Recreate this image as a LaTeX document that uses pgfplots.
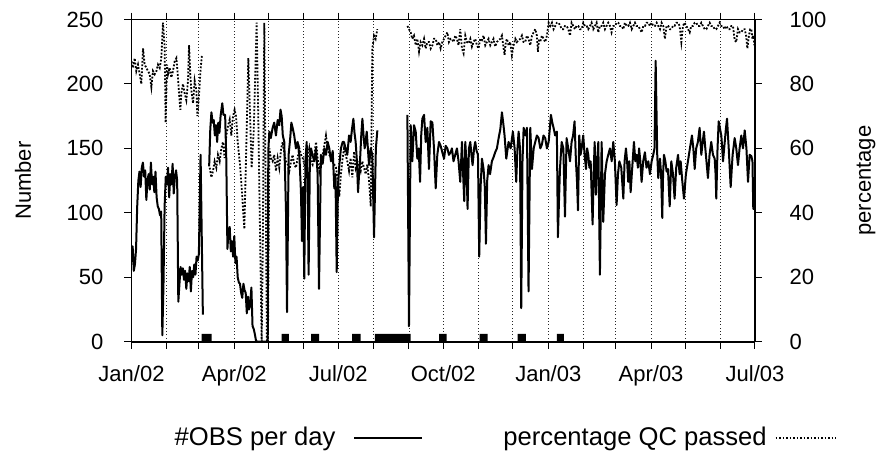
\documentclass[border=0pt]{standalone}
\usepackage{fontspec}
\setmainfont{Liberation Sans}
\usepackage{pgfplots}
\pgfplotsset{compat=1.18}
\pgfplotsset{
  solidleg/.style={legend image code/.code={\path (0pt,0pt); \draw[##1] (9pt,0pt) -- (43pt,0pt);}},
  dotleg/.style={legend image code/.code={\path (0pt,0pt); \draw[##1] (4pt,0pt) -- (34pt,0pt);}},
}
\begin{document}
\begin{tikzpicture}
\path[use as bounding box] (-65.75pt,-54.65pt) rectangle (374.25pt,170.85pt);
\pgfplotsset{
  every axis/.append style={
    width=311.75pt, height=161.1pt, scale only axis,
    at={(0,0)}, anchor=south west,
    xmin=0, xmax=546,
    axis line style={line width=0.9pt},
    every tick/.style={line width=0.5pt, black},
    major tick length=3.5pt,
    tick align=outside,
    /pgf/number format/assume math mode=true,
    tick label style={font=\fontsize{11}{13}\selectfont},
    label style={font=\fontsize{11}{13}\selectfont},
    unbounded coords=jump,
  }
}
\begin{axis}[
  ymin=0, ymax=250, ytick={0,50,100,150,200,250},
  axis y line*=left,
  xtick={0,31,59,90,120,151,181,212,243,273,304,334,365,396,424,455,485,516,546},
  xticklabels={Jan/02,,,Apr/02,,,Jul/02,,,Oct/02,,,Jan/03,,,Apr/03,,,Jul/03},
  xticklabel style={yshift=-5pt},
  yticklabel style={xshift=-7pt},
  xmajorgrids,
  major grid style={line width=0.45pt, black!85, dash pattern=on 0.45pt off 1.2pt},
  ylabel={Number},
  ylabel style={at={(axis description cs:-0.174,0.5)}, anchor=center, rotate=0},
]
% data-gap markers
\addplot[fill=black, draw=none, forget plot] coordinates {
(61.5,0)(61.5,6)(70.2,6)(70.2,0)
(131.5,0)(131.5,6)(137.9,6)(137.9,0)
(157.2,0)(157.2,6)(164.2,6)(164.2,0)
(193.3,0)(193.3,6)(200.7,6)(200.7,0)
(213.2,0)(213.2,6)(244.5,6)(244.5,0)
(269.3,0)(269.3,6)(276,6)(276,0)
(304.9,0)(304.9,6)(311.9,6)(311.9,0)
(338.2,0)(338.2,6)(345.4,6)(345.4,0)
(372.6,0)(372.6,6)(378.7,6)(378.7,0)
} \closedcycle;
% #OBS per day
\addplot[black, line width=1pt, line join=round] coordinates {
(0,62) (1,74) (2,55) (3,60) (4,72) (5,105) (6,125) (7,132) (8,120) (9,135) (10,139) (11,128) (12,133) (13,110) (14,125) (15,130) (16,118) (17,139) (18,122) (19,128) (20,116) (21,132) (22,112) (23,105) (24,103) (25,98) (26,101) (27,5) (28,44) (29,105) (30,128) (31,122) (32,135) (33,112) (34,130) (35,122) (36,138) (37,115) (38,128) (39,133) (40,125) (41,31) (42,45) (43,58) (44,52) (45,57) (46,48) (47,55) (48,41) (49,53) (50,47) (51,58) (52,39) (53,55) (54,50) (55,60) (56,52) (57,66) (58,63) (59,68) (60.5,145) (62.5,21) (65,nan)
(68,136) (69,165) (70,178) (71,170) (72,172) (73,160) (74,168) (75,155) (76,170) (77,162) (78,175) (79.5,185) (80.5,176) (82,176) (83,142) (84,72) (85,86) (86,89) (87,70) (88,78) (89,66) (90,82) (91,61) (92,66) (93,50) (94,46) (95,45) (96,38) (97,34) (98,45) (99,40) (100,38) (101,22) (102,35) (103,25) (104,30) (105,42) (106,12) (107,10) (108,6) (109,1) (110,0) (112,0) (114,0) (116,0) (118,0) (119.3,0) (119.8,148) (120.7,163) (122,158) (123.6,166) (125,170) (126.5,160) (128,172) (129.4,168) (130.5,180) (131.5,175) (132.5,160) (133.8,155) (135.3,101) (136.2,23) (137.6,145) (139,158) (140,170) (141.1,166) (142.5,160) (144,150) (145.5,155) (147,145) (148.4,116) (149.3,78) (150.3,120) (151.3,49) (152.3,140) (153.4,155) (154.3,120) (155.1,52) (156.2,140) (157.2,150) (158.5,145) (160.1,140) (161.6,150) (163,130) (164.2,41) (165.9,145) (167.4,138) (168.9,150) (170.3,145) (171.8,155) (173.2,150) (174.7,140) (176.2,148) (177.6,119) (178.6,130) (179.7,54) (180.8,120) (182,137) (183.4,150) (184.9,155) (186.1,155) (187.5,150) (189,145) (190.5,160) (191.9,155) (193.1,165) (194.3,173) (195.3,162) (196.3,155) (197.4,140) (198.4,116) (199.3,130) (200.1,140) (201.2,160) (202.2,173) (203.2,160) (204.2,150) (205,155) (206,163) (207,150) (208,137) (209.5,150) (210.9,145) (212.4,81) (214,150) (215.3,164) (216,nan)
(241.6,176) (243,12) (244.5,168) (245.9,140) (247.4,168) (248.9,163) (250.3,142) (251.5,150) (252.7,124) (253.7,160) (254.7,173) (256.2,176) (257.6,155) (259.1,166) (260.5,134) (262,171) (263.5,170) (264.9,150) (266.4,119) (267.8,145) (269.3,155) (270.7,152) (272.2,147) (273.7,142) (275.1,152) (276.6,150) (278,145) (279.5,147) (280.6,150) (282,140) (283.5,145) (285,150) (286.4,140) (287.9,124) (289.4,155) (290.4,130) (291.4,109) (292.3,155) (293.3,140) (294.3,103) (295.5,150) (296.7,155) (297.7,145) (298.7,137) (300,150) (301,155) (302.2,148) (303.4,145) (304.5,66) (305.7,120) (306.9,142) (308.3,134) (309.4,120) (310.4,76) (311.5,125) (312.7,137) (314,130) (315.6,140) (317,143) (318.5,147) (320,150) (321.5,158) (323,165) (324.4,178) (325.5,170) (326.7,160) (328.2,142) (330.2,155) (332,150) (334,163) (335.5,150) (336.9,124) (338,150) (339,163) (340.2,150) (341.3,26) (342.4,140) (343.4,166) (345,160) (346.3,166) (347.7,39) (349.2,166) (350.7,134) (352.2,150) (353.6,155) (355,160) (356.5,158) (358,150) (359.4,153) (360.8,160) (362.3,158) (363.8,150) (365.3,155) (366.3,165) (367.3,176) (368.5,170) (369.6,166) (371,160) (372.5,163) (373.4,81) (375.2,134) (376.7,155) (378.2,150) (379.6,97) (381,158) (382.5,150) (384,140) (385.4,155) (386.7,160) (388,171) (389.2,140) (390.1,125) (391,102) (392.1,160) (393.2,145) (394.2,150) (395.6,160) (396.8,145) (398,134) (399,150) (400,145) (401,135) (402.1,140) (403.8,91) (404.7,130) (405.6,155) (406.7,114) (407.8,140) (408.8,155) (410.2,52) (411.7,155) (413.1,93) (414.6,130) (416.1,140) (417.5,145) (419,150) (420.5,140) (421.9,155) (423.3,140) (424.8,106) (426,130) (427.2,140) (428.9,135) (430.7,111) (431.8,140) (433,150) (434,140) (435,124) (436,140) (437.1,116) (438.5,135) (440,155) (441.2,140) (442.3,145) (443.5,135) (444.5,150) (445.6,140) (446.7,124) (448.1,140) (449.6,147) (451,135) (452.6,140) (454,130) (455.5,140) (456.9,145) (458,150) (459,218) (460.4,145) (461.3,127) (462.8,142) (463.8,130) (464.8,96) (465.5,130) (466.3,145) (467.5,140) (468.6,132) (469.8,134) (471.3,105) (472.7,140) (474.2,130) (475.6,111) (477,135) (478.6,145) (480,130) (480.9,140) (482.3,125) (483.8,111) (485.5,130) (487.3,140) (489,150) (490.8,160) (492,150) (493.2,134) (494.5,150) (496,155) (497.5,166) (499,145) (500.2,155) (501.3,163) (502.5,150) (503.5,140) (504.8,127) (506.2,145) (507.7,155) (509.2,145) (510.7,142) (511.5,130) (512.1,111) (513.2,150) (514.2,171) (515.4,165) (516.5,160) (517.3,150) (518,140) (519.5,155) (520.5,165) (521.5,173) (523,150) (524.7,120) (526.4,145) (528.2,158) (529.6,150) (531.1,137) (532.5,150) (534,160) (535.5,150) (537,164) (538.5,150) (539.9,124) (541.3,145) (542.8,144) (543.8,140) (544.5,103) (545.5,103)
};
\end{axis}
\begin{axis}[
  ymin=0, ymax=100, ytick={0,20,40,60,80,100},
  axis y line*=right, axis x line=none,
  yticklabel style={xshift=10.3pt},
  ylabel={percentage},
  ylabel style={at={(axis description cs:1.178,0.5)}, anchor=center, rotate=0},
  legend columns=2,
  legend plot pos=right,
  legend cell align=left,
  legend style={at={(0.6,-0.299)}, anchor=center, draw=none, fill=none,
    font=\fontsize{12.8}{15}\selectfont, column sep=0pt,
    nodes={inner sep=0pt}},
]
\addlegendimage{black, line width=1pt, solidleg}
\addlegendentry{\#OBS per day}
\addplot[black, line width=0.9pt, dash pattern=on 0.9pt off 0.85pt, dotleg] coordinates {
(0,87) (1.3,85) (2.8,88) (4.2,84) (5.7,86) (7.2,83) (8.6,80) (10.1,91) (11.5,86) (13,85) (14.5,84) (15.9,83) (17.4,79) (18.8,84) (20.3,83) (21.8,84) (23.2,86) (24.7,85) (26.1,88) (27.6,99) (29,92) (29.9,68) (31.1,86) (32,83) (33.4,85) (34.9,82) (36.3,84) (37.8,87) (39.3,88) (40.7,82) (41.6,77) (42.8,72) (43.6,77) (45.1,80) (46.6,77) (48,75) (49.5,81) (50.4,92) (51.5,83) (52.4,78) (53.9,74) (55.3,81) (56.8,78) (57.7,70) (58.8,75) (60.6,85) (61.7,89) (63,nan)
(68.5,54) (69.9,51) (71.4,53) (72.8,56) (74.3,54) (75.7,58) (77.2,56) (78.7,60) (80.1,62) (81.6,57) (83,64) (84.5,67) (86,69) (87.4,64) (88.9,70) (90.3,72) (91.5,70) (93,62) (95,55) (97,45) (98.8,35) (100.5,60) (102.3,88) (103.7,72) (105.2,54) (107,65) (109.6,99) (111,70) (112.5,35) (114,0) (115,30) (116.3,99) (117.4,50) (118.6,0) (119.5,0) (120.7,60) (122,57) (123.6,56) (125,58) (126.5,53) (128,57) (129.4,54) (131,60) (132.4,62) (134,58) (135.3,56) (136.8,55) (138.2,53) (139.7,56) (141.1,58) (142.5,55) (144,54) (145.5,57) (147,60) (148.5,58) (149.9,57) (151.4,55) (152.8,53) (154.3,57) (155.7,60) (157.2,56) (158.6,55) (160.1,58) (161.6,62) (163,57) (164.5,53) (165.9,56) (167.4,58) (168.9,61) (170.3,64) (171.8,60) (173.2,58) (174.7,57) (176.2,56) (177.6,55) (179.1,54) (180.6,50) (182,45) (183.4,52) (184.9,57) (186.1,60) (187.5,58) (189,56) (190.5,53) (191.9,57) (193.4,51) (194.9,59) (196.3,54) (197.8,56) (199.2,55) (200.7,53) (202.1,56) (203.6,54) (205.1,52) (206.5,55) (208,50) (209.5,42) (210.9,91) (212.4,95) (213.8,94) (215.3,97) (216,nan)
(241.6,98) (243,97) (244.5,96) (245.9,94) (247.4,95) (248.9,92) (250.3,94) (251.8,90) (253.2,93) (254.7,92) (256.2,94) (257.6,91) (259.1,93) (260.5,93) (262,91) (263.5,92) (264.9,94) (266.4,94) (267.8,92) (269.3,93) (270.7,91) (272.2,93) (273.7,94) (275.1,95) (276.6,96) (278,93) (279.5,94) (280.6,94) (282,93) (283.5,95) (285,94) (286.4,92) (287.9,97) (289.4,91) (290.8,89.5) (292.3,95) (293.8,93) (295.2,92.6) (296.7,94) (298.1,91.6) (299.5,93) (301,94) (302.5,92) (303.9,91) (305.4,94) (306.9,93.6) (308.3,95) (309.8,92) (311.2,93) (312.7,94) (314.2,92) (315.6,93) (317,94) (318.5,91.6) (320,93) (321.5,93.6) (323,94) (324.4,95) (325.5,92) (326.7,89) (327.8,93) (328.8,94) (330.2,92) (331.7,93) (333.1,89) (334.6,92) (336.1,94) (337.5,93) (339,93.6) (340.5,94) (341.9,95) (343.3,93) (344.8,93) (346.3,95) (347.7,94) (349.2,92) (350.7,95) (352.1,96) (353.6,97) (355,95) (355.9,90) (356.9,94) (357.9,93) (359.4,95) (360.9,94) (362.3,93) (363.8,95) (365.3,99) (366.7,98) (368.2,99) (369.6,97) (371.1,98) (372.5,99) (374,99) (375.5,98) (376.9,97) (378.1,97) (379.6,98) (381,98) (382.5,97) (384,95) (385.4,99) (386.9,98) (388.3,97) (389.8,98) (391.3,98) (392.7,97) (394.2,97) (395.6,99) (397.1,98) (398.6,98) (400,97) (401.5,98) (402.9,99) (404.4,97) (405.9,98) (407.3,99) (408.8,96) (410.2,98) (411.7,98) (413.1,99) (414.6,97) (416,98) (417.5,99) (419,98) (420.4,96) (421.9,98) (423.4,98) (424.8,99) (426.3,99) (427.7,98) (429.2,98) (430.7,97) (432.1,99) (433.6,98) (435,98) (436.5,99) (438,97) (439.4,98) (440.9,99) (442.3,98) (443.8,98) (445.3,97) (446.7,96) (448.2,98) (449.6,98) (451.1,99) (452.6,99) (454,98) (455.5,99) (457,98) (458.4,98) (459.9,99) (461.3,98) (462.8,97) (464.2,99) (465.7,98) (467.1,94) (468.6,98) (470.1,98) (471.5,97) (472.7,97) (474.2,98) (475.6,98) (477.1,99) (478.6,99) (480,98) (481.5,93) (482.9,98) (484.4,99) (485.9,98) (487.3,97) (488.8,96) (490.2,98) (491.7,98) (493.2,99) (494.6,99) (496,98) (497.5,98) (499,99) (500.4,98) (501.9,97) (503.4,97) (504.8,98) (506.3,99) (507.7,98) (509.2,98) (510.7,97) (512.1,97) (513.6,98) (515,99) (516.5,98) (518,98) (519.4,97) (520.9,98) (522.4,97) (523.8,97) (525.3,98) (526.7,98) (528.2,93.6) (529.6,93) (531.1,97) (532.5,96) (534,96) (535.5,97) (537,97) (538.2,95) (539.3,91) (540.7,95) (541.8,97) (542.8,97) (543.7,94) (544.5,95) (545.5,92)
};
\addlegendentry{\hspace*{40pt}percentage QC passed}
\end{axis}
\end{tikzpicture}
\end{document}
